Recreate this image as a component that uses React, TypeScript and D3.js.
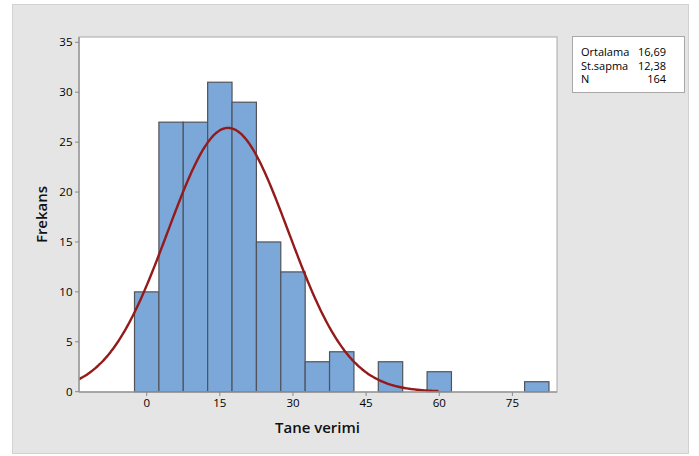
import React from "react";
import * as d3 from "d3";

// Histogram of grain yield (Tane verimi) with fitted normal curve
const binCenters = [0, 5, 10, 15, 20, 25, 30, 35, 40, 45, 50, 55, 60, 65, 70, 75, 80];
const binCounts = [10, 27, 27, 31, 29, 15, 12, 3, 4, 0, 3, 0, 2, 0, 0, 0, 1];
const binWidth = 5;
const xTicks = [0, 15, 30, 45, 60, 75];
const yTicks = [0, 5, 10, 15, 20, 25, 30, 35];
const statLabels = ["Ortalama", "St.sapma", "N"];
const statValues = ["16,69", "12,38", "164"];
const mean = 16.69;
const sd = 12.38;
const n = 164;

const W = 699;
const H = 456;
const plot = { left: 79, right: 557, top: 37, bottom: 392 };
const FONT = "'Open Sans', 'Noto Sans', sans-serif";

export default function App() {
  const x = d3.scaleLinear().domain([0, 75]).range([146.7, 512.4]);
  const y = d3.scaleLinear().domain([0, 35]).range([391.7, 42.3]);

  // Fitted normal density scaled to counts, over mean ± 3.5 sd
  const pdf = (v: number) =>
    (n * binWidth) / (sd * Math.sqrt(2 * Math.PI)) * Math.exp(-0.5 * ((v - mean) / sd) ** 2);
  const curvePts = d3.range(mean - 3.5 * sd, mean + 3.5 * sd + 0.01, 0.25).map((v) => [v, pdf(v)] as [number, number]);
  const line = d3
    .line<[number, number]>()
    .x((d) => x(d[0]))
    .y((d) => y(d[1]))
    .curve(d3.curveMonotoneX);

  return (
    <svg
      width={W}
      height={H}
      style={{ position: "absolute", left: 0, top: 0, fontFamily: FONT }}
    >
      <rect x={0} y={0} width={W} height={H} fill="#ffffff" />
      <rect x={12.5} y={4.5} width={676} height={449} fill="#e5e5e5" stroke="#d2d2d2" strokeWidth={1} />

      <defs>
        <clipPath id="plotClip">
          <rect x={plot.left} y={plot.top} width={plot.right - plot.left} height={plot.bottom - plot.top} />
        </clipPath>
      </defs>

      {/* plot area */}
      <rect
        x={plot.left}
        y={plot.top}
        width={plot.right - plot.left}
        height={plot.bottom - plot.top}
        fill="#ffffff"
        stroke="#a8a8a8"
        strokeWidth={1}
      />

      {/* bars */}
      <g>
        {binCenters.map((c, i) =>
          binCounts[i] > 0 ? (
            <rect
              key={c}
              x={x(c - binWidth / 2)}
              y={y(binCounts[i])}
              width={x(c + binWidth / 2) - x(c - binWidth / 2)}
              height={y(0) - y(binCounts[i])}
              fill="#7ba7d9"
              stroke="#50545a"
              strokeWidth={1.2}
            />
          ) : null
        )}
      </g>

      {/* fitted curve */}
      <path
        d={line(curvePts) || ""}
        fill="none"
        stroke="#951a1a"
        strokeWidth={2.4}
        clipPath="url(#plotClip)"
      />

      {/* axes lines */}
      <line x1={plot.left} x2={plot.left} y1={plot.top} y2={plot.bottom} stroke="#9a9a9a" strokeWidth={1.5} />
      <line x1={plot.left} x2={plot.right} y1={plot.bottom} y2={plot.bottom} stroke="#9a9a9a" strokeWidth={1.5} />

      {/* y ticks */}
      {yTicks.map((t) => (
        <g key={t}>
          <line x1={plot.left - 4} x2={plot.left} y1={y(t)} y2={y(t)} stroke="#8a8a8a" strokeWidth={1} />
          <text x={72.5} y={y(t)} dy="0.36em" textAnchor="end" fontSize={11.5} fill="#000000">
            {t}
          </text>
        </g>
      ))}

      {/* x ticks */}
      {xTicks.map((t) => (
        <g key={t}>
          <line x1={x(t)} x2={x(t)} y1={plot.bottom} y2={plot.bottom + 4} stroke="#8a8a8a" strokeWidth={1} />
          <text x={x(t)} y={407} textAnchor="middle" fontSize={11.5} fill="#000000">
            {t}
          </text>
        </g>
      ))}

      {/* axis titles */}
      <text x={317.5} y={433} textAnchor="middle" fontSize={15} fontWeight={600} fill="#111111">
        Tane verimi
      </text>
      <text
        transform={`translate(47,${(plot.top + plot.bottom) / 2}) rotate(-90)`}
        textAnchor="middle"
        fontSize={15}
        fontWeight={600}
        fill="#111111"
      >
        Frekans
      </text>

      {/* statistics box */}
      <rect x={572.5} y={36.5} width={112} height={56} fill="#ffffff" stroke="#a8a8a8" strokeWidth={1} />
      {statLabels.map((s, i) => (
        <g key={s}>
          <text x={581} y={56 + i * 13.5} fontSize={11} fill="#000000">
            {s}
          </text>
          <text x={666} y={56 + i * 13.5} textAnchor="end" fontSize={11} fill="#000000">
            {statValues[i]}
          </text>
        </g>
      ))}
    </svg>
  );
}
